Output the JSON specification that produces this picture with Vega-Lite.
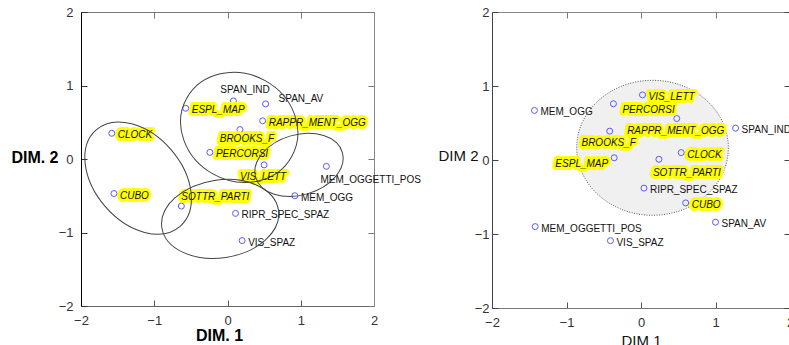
{
  "$schema": "https://vega.github.io/schema/vega-lite/v6.json",
  "padding": {"left": 10, "top": 6, "right": 0, "bottom": 0},
  "bounds": "flush",
  "spacing": 118,
  "background": "#ffffff",
  "config": {"view": {"stroke": null}, "axis": {"grid": false}},
  "datasets": {
    "ptsL": [
      {"label": "SPAN_IND", "x": 0.08, "y": 0.79, "hl": false, "pos": "a"},
      {"label": "SPAN_AV", "x": 0.52, "y": 0.75, "hl": false, "pos": "ur"},
      {"label": "ESPL_MAP", "x": -0.57, "y": 0.69, "hl": true, "pos": "r"},
      {"label": "RAPPR_MENT_OGG", "x": 0.48, "y": 0.52, "hl": true, "pos": "r"},
      {"label": "BROOKS_F", "x": 0.17, "y": 0.40, "hl": true, "pos": "bx"},
      {"label": "CLOCK", "x": -1.58, "y": 0.35, "hl": true, "pos": "r"},
      {"label": "PERCORSI", "x": -0.24, "y": 0.09, "hl": true, "pos": "r"},
      {"label": "VIS_LETT", "x": 0.50, "y": -0.08, "hl": true, "pos": "b"},
      {"label": "MEM_OGGETTI_POS", "x": 1.35, "y": -0.10, "hl": false, "pos": "br"},
      {"label": "MEM_OGG", "x": 0.92, "y": -0.50, "hl": false, "pos": "r"},
      {"label": "CUBO", "x": -1.55, "y": -0.47, "hl": true, "pos": "r"},
      {"label": "SOTTR_PARTI", "x": -0.63, "y": -0.64, "hl": true, "pos": "ar"},
      {"label": "RIPR_SPEC_SPAZ", "x": 0.11, "y": -0.74, "hl": false, "pos": "r"},
      {"label": "VIS_SPAZ", "x": 0.20, "y": -1.11, "hl": false, "pos": "r"}
    ],
    "ptsR": [
      {"label": "VIS_LETT", "x": 0.02, "y": 0.88, "hl": true, "pos": "r"},
      {"label": "PERCORSI", "x": -0.37, "y": 0.76, "hl": true, "pos": "rl"},
      {"label": "MEM_OGG", "x": -1.43, "y": 0.67, "hl": false, "pos": "r"},
      {"label": "RAPPR_MENT_OGG", "x": 0.48, "y": 0.56, "hl": true, "pos": "b"},
      {"label": "SPAN_IND", "x": 1.27, "y": 0.43, "hl": false, "pos": "r"},
      {"label": "BROOKS_F", "x": -0.42, "y": 0.39, "hl": true, "pos": "b"},
      {"label": "CLOCK", "x": 0.54, "y": 0.10, "hl": true, "pos": "r"},
      {"label": "ESPL_MAP", "x": -0.36, "y": 0.03, "hl": true, "pos": "l"},
      {"label": "SOTTR_PARTI", "x": 0.24, "y": 0.01, "hl": true, "pos": "br"},
      {"label": "RIPR_SPEC_SPAZ", "x": 0.04, "y": -0.38, "hl": false, "pos": "r"},
      {"label": "CUBO", "x": 0.60, "y": -0.58, "hl": true, "pos": "r"},
      {"label": "SPAN_AV", "x": 1.00, "y": -0.84, "hl": false, "pos": "r"},
      {"label": "MEM_OGGETTI_POS", "x": -1.42, "y": -0.90, "hl": false, "pos": "r"},
      {"label": "VIS_SPAZ", "x": -0.41, "y": -1.09, "hl": false, "pos": "r"}
    ],
    "ellL": [
      {"grp": "top", "cx": 0.16, "cy": 0.43, "major": 1.64, "tilt": -29},
      {"grp": "left", "cx": -1.22, "cy": -0.26, "major": 1.746, "tilt": -49},
      {"grp": "bottom", "cx": -0.1, "cy": -0.815, "major": 1.61, "tilt": 8.6},
      {"grp": "right", "cx": 0.976, "cy": -0.08, "major": 1.23, "tilt": 16}
    ],
    "ellR": [
      {"grp": "all", "cx": 0.155, "cy": 0.165, "major": 2.07, "tilt": 0}
    ]
  },
  "hconcat": [
    {
      "width": 293,
      "height": 294,
      "resolve": {"axis": {"x": "independent", "y": "independent"}},
      "layer": [
        {
          "data": {"name": "ptsL"},
          "mark": {"type": "point", "shape": "circle", "filled": false, "color": "#5a5aff", "size": 36, "strokeWidth": 1, "opacity": 1},
          "encoding": {
            "x": {"field": "x", "type": "quantitative", "scale": {"domain": [-2, 2], "nice": false, "zero": false},
              "axis": {"orient": "bottom", "values": [-2, -1, 0, 1, 2], "tickSize": -6, "tickColor": "#555", "domainColor": "#666", "labelPadding": 14, "labelFont": "Liberation Sans", "labelFontSize": 13, "labelColor": "#333", "labelFlush": false, "labelOverlap": false,
                "title": "DIM. 1", "titleFont": "Liberation Sans", "titleFontSize": 16, "titleFontWeight": "bold", "titleColor": "#000", "titleX": 138, "titleY": 21, "titleBaseline": "top", "titleAlign": "center"}},
            "y": {"field": "y", "type": "quantitative", "scale": {"domain": [-2, 2], "nice": false, "zero": false},
              "axis": {"orient": "left", "values": [-2, -1, 0, 1, 2], "tickSize": -6, "tickColor": "#333", "domainColor": "#000", "labelPadding": 14, "labelFont": "Liberation Sans", "labelFontSize": 13, "labelColor": "#333", "labelFlush": false, "labelOverlap": false,
                "title": "DIM. 2", "titleFont": "Liberation Sans", "titleFontSize": 16, "titleFontWeight": "bold", "titleColor": "#000", "titleAngle": 0, "titleAlign": "right", "titleBaseline": "middle", "titleX": -23, "titleY": 145}}
          }
        },
        {
          "data": {"name": "ptsL"},
          "mark": {"type": "point", "opacity": 0},
          "encoding": {
            "x": {"field": "x", "type": "quantitative", "axis": {"orient": "top", "values": [-2, -1, 0, 1, 2], "labels": false, "title": null, "tickSize": -6, "tickColor": "#777", "domainColor": "#777"}},
            "y": {"field": "y", "type": "quantitative", "axis": {"orient": "right", "values": [-2, -1, 0, 1, 2], "labels": false, "title": null, "tickSize": -6, "tickColor": "#777", "domainColor": "#888"}}
          }
        },
        {
          "data": {"name": "ptsL"},
          "transform": [{"filter": "datum.hl"}],
          "mark": {"type": "text", "font": "Liberation Sans", "fontSize": 10, "fontStyle": "italic", "fill": "#ffff00", "stroke": "#ffff00", "strokeWidth": 6, "strokeJoin": "round", "baseline": "middle",
            "align": {"expr": "datum.pos === 'b' || datum.pos === 'bx' ? 'center' : (datum.pos === 'l' ? 'right' : 'left')"},
            "dx": {"expr": "({r: 6, ur: 13, a: -13, ar: 0, br: -6, rl: 9, b: -1, bx: 7, l: -6})[datum.pos]"},
            "dy": {"expr": "({r: 2, ur: -5, a: -11, ar: -9, br: 14, rl: 6, b: 12, bx: 9, l: 6})[datum.pos]"}},
          "encoding": {
            "x": {"field": "x", "type": "quantitative", "axis": null},
            "y": {"field": "y", "type": "quantitative", "axis": null},
            "text": {"field": "label"}
          }
        },
        {
          "data": {"name": "ptsL"},
          "mark": {"type": "text", "font": "Liberation Sans", "fontSize": 10, "fill": "#111", "baseline": "middle",
            "fontStyle": {"expr": "datum.hl ? 'italic' : 'normal'"},
            "align": {"expr": "datum.pos === 'b' || datum.pos === 'bx' ? 'center' : (datum.pos === 'l' ? 'right' : 'left')"},
            "dx": {"expr": "({r: 6, ur: 13, a: -13, ar: 0, br: -6, rl: 9, b: -1, bx: 7, l: -6})[datum.pos]"},
            "dy": {"expr": "({r: 2, ur: -5, a: -11, ar: -9, br: 14, rl: 6, b: 12, bx: 9, l: 6})[datum.pos]"}},
          "encoding": {
            "x": {"field": "x", "type": "quantitative", "axis": null},
            "y": {"field": "y", "type": "quantitative", "axis": null},
            "text": {"field": "label"}
          }
        },
        {
          "data": {"name": "ellL"},
          "mark": {"type": "point", "filled": false, "color": "#444", "strokeWidth": 1, "opacity": 1},
          "encoding": {
            "x": {"field": "cx", "type": "quantitative", "axis": null},
            "y": {"field": "cy", "type": "quantitative", "axis": null},
            "shape": {"field": "grp", "type": "nominal", "legend": null,
              "scale": {"domain": ["top", "left", "bottom", "right"],
                "range": ["M-1,0A1,0.89,0,1,1,1,0A1,0.89,0,1,1,-1,0Z", "M-1,0A1,0.68,0,1,1,1,0A1,0.68,0,1,1,-1,0Z", "M-1,0A1,0.66,0,1,1,1,0A1,0.66,0,1,1,-1,0Z", "M-1,0A1,0.67,0,1,1,1,0A1,0.67,0,1,1,-1,0Z"]}},
            "size": {"field": "major", "type": "quantitative", "legend": null, "scale": {"type": "pow", "exponent": 2, "domain": [0, 4], "range": [0, 85849]}},
            "angle": {"field": "tilt", "type": "quantitative", "legend": null, "scale": {"domain": [-90, 90], "range": [90, -90]}}
          }
        }
      ]
    },
    {
      "width": 298,
      "height": 296,
      "resolve": {"axis": {"x": "independent", "y": "independent"}},
      "layer": [
        {
          "data": {"name": "ellR"},
          "mark": {"type": "point", "filled": false, "fill": "#f0f0f0", "fillOpacity": 1, "color": "#555", "strokeWidth": 1, "strokeDash": [1, 1.5], "opacity": 1},
          "encoding": {
            "x": {"field": "cx", "type": "quantitative", "scale": {"domain": [-2, 2], "nice": false, "zero": false},
              "axis": {"orient": "bottom", "values": [-2, -1, 0, 1, 2], "tickSize": -6, "tickColor": "#555", "domainColor": "#777", "labelPadding": 14, "labelFont": "Liberation Sans", "labelFontSize": 13, "labelColor": "#333", "labelFlush": false, "labelOverlap": false,
                "title": "DIM 1", "titleFont": "Liberation Sans", "titleFontSize": 15, "titleFontWeight": "normal", "titleColor": "#111", "titleX": 149, "titleY": 25, "titleBaseline": "top", "titleAlign": "center"}},
            "y": {"field": "cy", "type": "quantitative", "scale": {"domain": [-2, 2], "nice": false, "zero": false},
              "axis": {"orient": "left", "values": [-2, -1, 0, 1, 2], "tickSize": -6, "tickColor": "#444", "domainColor": "#444", "labelPadding": 9, "labelFont": "Liberation Sans", "labelFontSize": 13, "labelColor": "#333", "labelFlush": false, "labelOverlap": false,
                "title": "DIM 2", "titleFont": "Liberation Sans", "titleFontSize": 15, "titleFontWeight": "normal", "titleColor": "#111", "titleAngle": 0, "titleAlign": "right", "titleBaseline": "middle", "titleX": -14, "titleY": 143}},
            "shape": {"field": "grp", "type": "nominal", "legend": null,
              "scale": {"domain": ["all"], "range": ["M-1,0A1,0.86,0,1,1,1,0A1,0.86,0,1,1,-1,0Z"]}},
            "size": {"field": "major", "type": "quantitative", "legend": null, "scale": {"type": "pow", "exponent": 2, "domain": [0, 4], "range": [0, 88804]}},
            "angle": {"field": "tilt", "type": "quantitative", "legend": null, "scale": {"domain": [-90, 90], "range": [90, -90]}}
          }
        },
        {
          "data": {"name": "ptsR"},
          "mark": {"type": "point", "shape": "circle", "filled": false, "color": "#5a5aff", "size": 36, "strokeWidth": 1, "opacity": 1},
          "encoding": {
            "x": {"field": "x", "type": "quantitative", "axis": {"orient": "top", "values": [-2, -1, 0, 1, 2], "labels": false, "title": null, "tickSize": -6, "tickColor": "#777", "domainColor": "#888"}},
            "y": {"field": "y", "type": "quantitative", "axis": {"orient": "right", "values": [-2, -1, 0, 1, 2], "labels": false, "title": null, "tickSize": -6, "tickColor": "#444", "domainColor": "#444"}}
          }
        },
        {
          "data": {"name": "ptsR"},
          "transform": [{"filter": "datum.hl"}],
          "mark": {"type": "text", "font": "Liberation Sans", "fontSize": 10, "fontStyle": "italic", "fill": "#ffff00", "stroke": "#ffff00", "strokeWidth": 6, "strokeJoin": "round", "baseline": "middle",
            "align": {"expr": "datum.pos === 'b' || datum.pos === 'bx' ? 'center' : (datum.pos === 'l' ? 'right' : 'left')"},
            "dx": {"expr": "({r: 6, ur: 13, a: -13, ar: 0, br: -6, rl: 9, b: -1, bx: 7, l: -6})[datum.pos]"},
            "dy": {"expr": "({r: 2, ur: -5, a: -11, ar: -9, br: 14, rl: 6, b: 12, bx: 9, l: 6})[datum.pos]"}},
          "encoding": {
            "x": {"field": "x", "type": "quantitative", "axis": null},
            "y": {"field": "y", "type": "quantitative", "axis": null},
            "text": {"field": "label"}
          }
        },
        {
          "data": {"name": "ptsR"},
          "mark": {"type": "text", "font": "Liberation Sans", "fontSize": 10, "fill": "#111", "baseline": "middle",
            "fontStyle": {"expr": "datum.hl ? 'italic' : 'normal'"},
            "align": {"expr": "datum.pos === 'b' || datum.pos === 'bx' ? 'center' : (datum.pos === 'l' ? 'right' : 'left')"},
            "dx": {"expr": "({r: 6, ur: 13, a: -13, ar: 0, br: -6, rl: 9, b: -1, bx: 7, l: -6})[datum.pos]"},
            "dy": {"expr": "({r: 2, ur: -5, a: -11, ar: -9, br: 14, rl: 6, b: 12, bx: 9, l: 6})[datum.pos]"}},
          "encoding": {
            "x": {"field": "x", "type": "quantitative", "axis": null},
            "y": {"field": "y", "type": "quantitative", "axis": null},
            "text": {"field": "label"}
          }
        }
      ]
    }
  ]
}
